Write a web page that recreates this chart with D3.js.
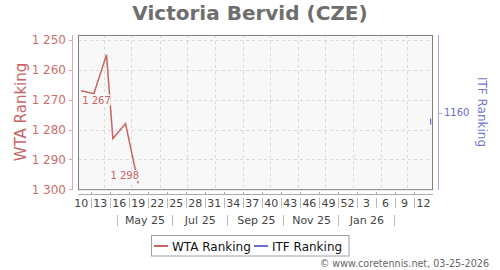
<!DOCTYPE html>
<html><head><meta charset="utf-8">
<script src="https://cdn.jsdelivr.net/npm/d3@7"></script>
<style>body{margin:0;background:#fff}svg{display:block;font-family:"DejaVu Sans",sans-serif}</style>
</head><body><svg id="c" width="500" height="270"></svg>
<script>
// ---- data ----
const title = "Victoria Bervid (CZE)";
const wtaWeeks = ["2025-03-03","2025-03-17","2025-03-31","2025-04-07","2025-04-21","2025-05-05"];
const wtaRanks = [1267, 1268, 1255, 1283, 1278, 1298];
const itfWeeks = ["2026-03-25","2026-03-25"];
const itfRanks = [1164, 1162];
const leftTicks = [1250, 1260, 1270, 1280, 1290, 1300];
const rightTicks = [1160];
const weekTickStart = "2025-03-03";
const weekTickLabels = ["10","13","16","19","22","25","28","31","34","37","40","43","46","49","52","3","6","9","12"];
const monthLabels = ["May 25","Jul 25","Sep 25","Nov 25","Jan 26"];
const monthLabelDates = ["2025-05-16","2025-07-16","2025-09-16","2025-11-16","2026-01-16"];
const monthSepDates = ["2025-04-15","2025-06-15","2025-08-15","2025-10-15","2025-12-15","2026-02-15"];
const seriesNames = ["WTA Ranking","ITF Ranking"];
const footer = "© www.coretennis.net, 03-25-2026";

// ---- setup ----
const P = d3.utcParse("%Y-%m-%d");
const svg = d3.select("#c");
const L = 78, R = 433, T = 35, B = 189.7;
const red = "#c86464", blue = "#6c6cd8";
const x = d3.scaleUtc().domain([P("2025-03-03"), P("2026-03-30")]).range([L, R]);
const yL = d3.scaleLinear().domain([1248.4, 1300.1]).range([T, B]);
const yR = d3.scaleLinear().domain([1134, 1186]).range([T, 190]);
const mid = d => d3.utcHour.offset(d, 84); // centre of the week
const loc = d3.formatLocale({decimal: ".", thousands: " ", grouping: [3], currency: ["", ""]});
const fmt = loc.format(",d");

svg.append("rect").attr("width", 500).attr("height", 270).attr("fill", "#fff");

// title
svg.append("text").attr("x", 250).attr("y", 20).attr("text-anchor", "middle")
  .attr("font-size", 20).attr("font-weight", "bold").attr("fill", "#6e6e6e").text(title);

// plot background
svg.append("rect").attr("x", L).attr("y", T).attr("width", R - L).attr("height", B - T).attr("fill", "#f8f8f8");

// grid
const months = d3.utcMonth.range(P("2025-04-01"), P("2026-03-02"));
svg.append("g").selectAll("line").data(months).join("line")
  .attr("x1", d => Math.round(x(d)) + 0.5).attr("x2", d => Math.round(x(d)) + 0.5)
  .attr("y1", T).attr("y2", B).attr("stroke", "#dadada").attr("stroke-dasharray", "3,3");
svg.append("g").selectAll("line").data(leftTicks).join("line")
  .attr("x1", L).attr("x2", R).attr("y1", d => Math.round(yL(d)) + 0.5).attr("y2", d => Math.round(yL(d)) + 0.5)
  .attr("stroke", "#dadada").attr("stroke-dasharray", "3,3");

// plot border
svg.append("rect").attr("x", L + 0.5).attr("y", T + 0.5).attr("width", R - L - 1).attr("height", B - T - 0.5)
  .attr("fill", "none").attr("stroke", "#808080");

// WTA line
const wta = wtaWeeks.map((d, i) => ({d: mid(P(d)), v: wtaRanks[i]}));
const line = d3.line().x(d => x(d.d)).y(d => yL(d.v));
svg.append("path").datum(wta).attr("d", line).attr("fill", "none").attr("stroke", red).attr("stroke-width", 1.5);

// ITF line
const itf = itfWeeks.map((d, i) => ({d: mid(P(d)), v: itfRanks[i]}));
svg.append("path").datum(itf).attr("d", d3.line().x(d => x(d.d) - 1).y(d => yR(d.v)))
  .attr("fill", "none").attr("stroke", blue).attr("stroke-width", 1.2);

// point labels (first & last)
function ptLabel(p, dx, dy, anchor) {
  const g = svg.append("g");
  const bg = g.append("rect").attr("fill", "#f8f8f8");
  const t = g.append("text").attr("x", x(p.d) + dx).attr("y", yL(p.v) + dy).attr("text-anchor", anchor)
    .attr("font-size", 10).attr("fill", red).text(fmt(p.v));
  const b = t.node().getBBox();
  bg.attr("x", b.x).attr("y", b.y).attr("width", b.width).attr("height", b.height);
}
ptLabel(wta[0], 1, 13, "start");
ptLabel(wta[wta.length - 1], 0.8, -4.3, "end");

// left axis
svg.append("line").attr("x1", 72.5).attr("x2", 72.5).attr("y1", T).attr("y2", 190).attr("stroke", "#dcaaaa");
const lt = svg.append("g").selectAll("g").data(leftTicks).join("g");
lt.append("line").attr("x1", 69).attr("x2", 72.5).attr("y1", d => Math.round(yL(d)) + 0.5).attr("y2", d => Math.round(yL(d)) + 0.5).attr("stroke", "#dcaaaa");
lt.append("text").attr("x", 66).attr("y", d => yL(d) + 4.4).attr("text-anchor", "end")
  .attr("font-size", 12).attr("fill", "#cd6e6e").text(d => fmt(d));
svg.append("text").attr("transform", "translate(26,112) rotate(-90)").attr("text-anchor", "middle")
  .attr("font-size", 15).attr("fill", red).text(seriesNames[0]);

// right axis
svg.append("line").attr("x1", 438.5).attr("x2", 438.5).attr("y1", T).attr("y2", 190).attr("stroke", "#a8a8e4");
const rt = svg.append("g").selectAll("g").data(rightTicks).join("g");
rt.append("line").attr("x1", 438.5).attr("x2", 442).attr("y1", d => Math.round(yR(d)) + 0.5).attr("y2", d => Math.round(yR(d)) + 0.5).attr("stroke", "#aaa");
rt.append("text").attr("x", 444).attr("y", d => yR(d) + 3.8).attr("font-size", 10).attr("fill", blue).text(d => d);
svg.append("text").attr("transform", "translate(478,112) rotate(90)").attr("text-anchor", "middle")
  .attr("font-size", 12).attr("fill", "#7474d0").text(seriesNames[1]);

// x axis
svg.append("line").attr("x1", L).attr("x2", R).attr("y1", 194.5).attr("y2", 194.5).attr("stroke", "#aaa");
const wk0 = P(weekTickStart);
const wkDates = weekTickLabels.map((l, i) => d3.utcMonday.offset(wk0, i * 3));
svg.append("g").selectAll("text").data(weekTickLabels).join("text")
  .attr("x", (d, i) => x(mid(wkDates[i]))).attr("y", 207).attr("text-anchor", "middle")
  .attr("font-size", 11).attr("fill", "#444").text(d => d);
const seps = wkDates.slice(0, -1).map(d => d3.utcMonday.offset(d, 2));
const sg = svg.append("g").selectAll("g").data(seps).join("g");
sg.append("line").attr("x1", d => Math.round(x(d)) + 0.5).attr("x2", d => Math.round(x(d)) + 0.5)
  .attr("y1", 192).attr("y2", 194.5).attr("stroke", "#aaa");
sg.append("line").attr("x1", d => Math.round(x(d)) + 0.5).attr("x2", d => Math.round(x(d)) + 0.5)
  .attr("y1", 198).attr("y2", 208).attr("stroke", "#bbb");

// month row
svg.append("g").selectAll("text").data(monthLabels).join("text")
  .attr("x", (d, i) => x(P(monthLabelDates[i]))).attr("y", 223.5).attr("text-anchor", "middle")
  .attr("font-size", 11).attr("fill", "#444").text(d => d);
svg.append("g").selectAll("line").data(monthSepDates).join("line")
  .attr("x1", d => Math.round(x(P(d))) + 0.5).attr("x2", d => Math.round(x(P(d))) + 0.5)
  .attr("y1", 215).attr("y2", 226).attr("stroke", "#bbb");

// legend
svg.append("rect").attr("x", 151.5).attr("y", 235.5).attr("width", 197.5).attr("height", 20.5)
  .attr("fill", "#fff").attr("stroke", "#a0a0a0");
const lg = [{c: red, x: 154, n: seriesNames[0]}, {c: blue, x: 254, n: seriesNames[1]}];
const lgg = svg.append("g").selectAll("g").data(lg).join("g");
lgg.append("line").attr("x1", d => d.x).attr("x2", d => d.x + 14).attr("y1", 246).attr("y2", 246)
  .attr("stroke", d => d.c).attr("stroke-width", 2);
lgg.append("text").attr("x", d => d.x + 18).attr("y", 250.5).attr("font-size", 12).attr("fill", "#111").text(d => d.n);

// footer
svg.append("text").attr("x", 489).attr("y", 267).attr("text-anchor", "end")
  .attr("font-size", 9.6).attr("fill", "#666").text(footer);
</script></body></html>
